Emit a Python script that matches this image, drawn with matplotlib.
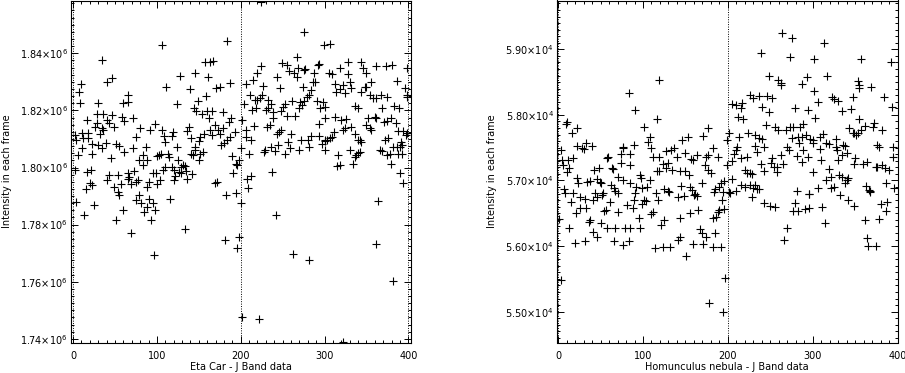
import matplotlib
matplotlib.use('Agg')
import matplotlib.pyplot as plt
import numpy as np
from matplotlib.ticker import MultipleLocator, FuncFormatter

# Eta Car frames (x = frame number, y in units of 1e6)
eta_x = [34, 47, 40, 9, 7, 66, 8, 30, 59, 65, 29, 36, 47, 58, 72, 16, 28, 41, 43, 61,
         26, 34, 49, 80, 92, 98, 2, 11, 18, 32, 36, 75, 12, 18, 4, 22, 30, 39, 51, 55,
         87, 11, 35, 71, 61, 23, 6, 45, 84, 79, 88, 100, 84, 2, 21, 17, 73, 43, 53, 65,
         95, 99, 41, 65, 67, 77, 75, 90, 20, 23, 69, 100, 15, 49, 57, 88, 53, 55, 79, 75,
         91, 4, 81, 95, 25, 88, 98, 85, 59, 13, 51, 93, 69, 96,
         106, 184, 157, 163, 167, 127, 146, 161, 111, 140, 171, 175, 187, 159, 149, 124, 144, 147, 160, 166,
         154, 179, 162, 188, 186, 169, 106, 119, 138, 136, 163, 173, 179, 193, 108, 118, 156, 166, 175,
         141, 110, 152, 150, 124, 146, 187, 184, 180, 176, 146, 155, 152, 102, 105, 113, 115, 125, 143, 141,
         150, 190, 200, 131, 129, 134, 118, 120, 194, 196, 198, 107, 110, 126, 129, 135, 122, 142, 104, 120,
         136, 191, 169, 172, 194, 183, 116, 200, 134, 181, 198, 195,
         224, 275, 299, 267, 249, 255, 258, 264, 267, 277, 276, 268, 292, 294, 224, 220, 215, 206, 243, 288,
         286, 289, 227, 247, 274, 284, 282, 279, 276, 211, 225, 223, 217, 219, 232, 204, 236, 261, 271, 269,
         273, 253, 250, 291, 298, 295, 301, 214, 218, 230, 233, 239, 248, 255, 265, 202, 239, 301, 216, 231,
         235, 293, 206, 248, 246, 243, 260, 206, 212, 272, 280, 284, 294, 257, 301, 236, 245, 259, 281, 297,
         229, 228, 241, 270, 300, 210, 253, 237, 212, 208, 209, 242, 262, 282, 202, 222,
         307, 328, 344, 381, 318, 346, 350, 362, 373, 398, 305, 309, 328, 387, 356, 313, 322, 330, 332, 318,
         314, 325, 344, 348, 350, 396, 354, 358, 362, 367, 375, 399, 399, 336, 340, 368, 383, 389, 313, 320,
         326, 360, 352, 362, 379, 385, 371, 374, 324, 332, 354, 356, 350, 388, 394, 399, 397, 311, 309, 307,
         303, 301, 322, 336, 340, 344, 342, 372, 376, 382, 386, 391, 390, 393, 378, 388, 392, 366, 369, 375,
         379, 330, 340, 342, 338, 336, 334, 316, 315, 319, 390, 394, 364, 362, 382, 322]
eta_y = [1.8377, 1.8312, 1.8301, 1.8291, 1.8265, 1.8254, 1.8227, 1.8225, 1.8225, 1.8228,
         1.8189, 1.8189, 1.8184, 1.8178, 1.8175, 1.8168, 1.8157, 1.8166, 1.8157, 1.8164,
         1.8143, 1.8137, 1.8143, 1.8140, 1.8131, 1.8154, 1.8113, 1.8122, 1.8122, 1.8119,
         1.8131, 1.8108, 1.8104, 1.8105, 1.8096, 1.8084, 1.8078, 1.8086, 1.8082, 1.8076,
         1.8072, 1.8067, 1.8067, 1.8069, 1.8055, 1.8049, 1.8043, 1.8034, 1.8043, 1.8028,
         1.8028, 1.8040, 1.8010, 1.7993, 1.7993, 1.7985, 1.7987, 1.7975, 1.7975, 1.7979,
         1.7979, 1.7979, 1.7955, 1.7959, 1.7967, 1.7955, 1.7950, 1.7950, 1.7946, 1.7938,
         1.7941, 1.7941, 1.7923, 1.7930, 1.7941, 1.7930, 1.7914, 1.7905, 1.7905, 1.7885,
         1.7888, 1.7879, 1.7874, 1.7874, 1.7868, 1.7863, 1.7851, 1.7844, 1.7852, 1.7835,
         1.7815, 1.7815, 1.7772, 1.7694,
         1.8429, 1.8443, 1.8368, 1.8371, 1.8373, 1.8320, 1.8332, 1.8316, 1.8281, 1.8274,
         1.8277, 1.8281, 1.8295, 1.8250, 1.8234, 1.8222, 1.8210, 1.8198, 1.8198, 1.8198,
         1.8187, 1.8193, 1.8175, 1.8172, 1.8158, 1.8148, 1.8131, 1.8125, 1.8143,
         1.8129, 1.8131, 1.8131, 1.8137, 1.8125, 1.8110, 1.8110, 1.8119, 1.8113, 1.8119,
         1.8102, 1.8090, 1.8108, 1.8092, 1.8073, 1.8073, 1.8107, 1.8096, 1.8086, 1.8078,
         1.8061, 1.8055, 1.8049, 1.8043, 1.8047, 1.8047, 1.8038, 1.8028, 1.8043, 1.8049,
         1.8028, 1.8042, 1.8067, 1.8008, 1.8002, 1.8006, 1.8002, 1.7990, 1.8014, 1.8008,
         1.8025, 1.7993, 1.8002, 1.7985, 1.7979, 1.7988, 1.7969, 1.7976, 1.7955, 1.7955,
         1.7959, 1.7979, 1.7944, 1.7950, 1.7911, 1.7903, 1.7888, 1.7874, 1.7783, 1.7745,
         1.7757, 1.7719,
         1.8581, 1.8476, 1.8429, 1.8388, 1.8367, 1.8359, 1.8338, 1.8332, 1.8316, 1.8345,
         1.8342, 1.8347, 1.8359, 1.8363, 1.8356, 1.8332, 1.8306, 1.8292, 1.8316, 1.8330,
         1.8301, 1.8298, 1.8285, 1.8277, 1.8281, 1.8271, 1.8254, 1.8248, 1.8234, 1.8254,
         1.8254, 1.8242, 1.8236, 1.8236, 1.8236, 1.8222, 1.8222, 1.8234, 1.8230, 1.8207,
         1.8219, 1.8222, 1.8213, 1.8234, 1.8230, 1.8210, 1.8213, 1.8201, 1.8207, 1.8201,
         1.8207, 1.8195, 1.8199, 1.8180, 1.8180, 1.8166, 1.8172, 1.8175, 1.8145, 1.8143,
         1.8149, 1.8151, 1.8133, 1.8133, 1.8125, 1.8117, 1.8119, 1.8108, 1.8098, 1.8098,
         1.8096, 1.8110, 1.8110, 1.8090, 1.8098, 1.8073, 1.8078, 1.8070, 1.8072, 1.8082,
         1.8060, 1.8053, 1.8057, 1.8063, 1.8063, 1.8049, 1.8047, 1.7985, 1.7971, 1.7959,
         1.7928, 1.7833, 1.7698, 1.7675, 1.7478, 1.7470,
         1.8432, 1.8371, 1.8371, 1.8359, 1.8350, 1.8347, 1.8332, 1.8355, 1.8355, 1.8347,
         1.8332, 1.8327, 1.8327, 1.8303, 1.8301, 1.8292, 1.8289, 1.8301, 1.8277, 1.8274,
         1.8265, 1.8260, 1.8265, 1.8281, 1.8281, 1.8277, 1.8254, 1.8243, 1.8243, 1.8254,
         1.8246, 1.8254, 1.8248, 1.8215, 1.8207, 1.8210, 1.8215, 1.8207, 1.8178, 1.8166,
         1.8169, 1.8178, 1.8172, 1.8172, 1.8175, 1.8157, 1.8160, 1.8164, 1.8139, 1.8143,
         1.8137, 1.8131, 1.8149, 1.8127, 1.8127, 1.8121, 1.8113, 1.8125, 1.8108, 1.8105,
         1.8096, 1.8093, 1.8131, 1.8119, 1.8096, 1.8090, 1.8098, 1.8096, 1.8104, 1.8072,
         1.8072, 1.8090, 1.8072, 1.8078, 1.8049, 1.8047, 1.8049, 1.8061, 1.8057, 1.8043,
         1.8014, 1.8061, 1.8051, 1.8055, 1.8043, 1.8038, 1.8014, 1.8043, 1.8006, 1.8008,
         1.7979, 1.7944, 1.7882, 1.7733, 1.7604, 1.7388]

# Homunculus nebula frames (y in units of 1e4)
hom_x = [83, 90, 10, 9, 22, 16, 22, 28, 30, 40, 33, 76, 77, 89, 85, 74, 3, 58, 59, 63,
         65, 4, 12, 18, 6, 13, 11, 74, 85, 42, 48, 96, 98, 22, 24, 34, 38, 49, 51, 46,
         71, 77, 85, 62, 66, 92, 99, 7, 8, 17, 43, 53, 52, 70, 67, 91, 26, 32, 41, 46,
         15, 89, 61, 81, 26, 33, 88, 99, 21, 54, 57, 71, 1, 95, 37, 36, 50, 58, 67,
         79, 85, 96, 13, 41, 46, 20, 32, 66, 77, 83, 3,
         119, 116, 101, 176, 108, 106, 109, 171, 153, 146, 182, 133, 136, 127, 112, 119, 140, 150, 156, 159,
         164, 174, 176, 188, 123, 129, 173, 127, 134, 116, 119, 143, 149, 154, 176, 180, 108, 169, 192,
         189, 145, 155, 105, 125, 131, 129, 158, 161, 160, 185, 184, 194, 115, 141, 148, 164, 118, 101, 103,
         193, 188, 190, 195, 112, 110, 165, 155, 125, 121, 143, 182, 186, 185, 167, 170, 174, 143, 141, 114,
         123, 132, 159, 171, 182, 192, 151, 197, 178, 194,
         264, 275, 239, 273, 248, 259, 262, 263, 293, 287, 226, 230, 237, 246, 252, 205, 209, 215, 217, 240,
         249, 279, 294, 212, 218, 245, 255, 259, 269, 273, 277, 285, 288, 201, 213, 224, 232, 237, 240, 275,
         283, 287, 292, 297, 199, 284, 232, 243, 211, 210, 270, 272, 289, 234, 222, 215, 207, 199, 205, 263,
         281, 287, 252, 251, 265, 258, 254, 243, 239, 220, 222, 226, 228, 258, 205, 196, 215, 220, 226, 232,
         234, 230, 237, 209, 201, 203, 228, 281, 296, 279, 277, 283, 291, 295, 242, 250, 256, 270, 266,
         313, 302, 357, 392, 317, 353, 355, 354, 369, 301, 306, 323, 325, 330, 347, 334, 345, 384, 393, 303,
         355, 372, 361, 371, 382, 343, 347, 353, 351, 349, 357, 312, 308, 300, 300, 316, 319, 327, 327,
         328, 308, 294, 336, 338, 340, 335, 350, 376, 378, 395, 310, 330, 349, 359, 364, 374, 376, 382, 385,
         390, 395, 300, 319, 331, 334, 340, 338, 341, 315, 321, 386, 396, 363, 366, 368, 367, 296, 306, 321,
         325, 332, 311, 342, 349, 380, 388, 386, 378, 362, 314, 364, 365, 374]
hom_y = [5.8329, 5.8075, 5.7898, 5.7857, 5.7806, 5.7720, 5.7532, 5.7491, 5.7476, 5.7532,
         5.7578, 5.7491, 5.7517, 5.7542, 5.7405, 5.7405, 5.7466, 5.7344, 5.7364, 5.7187,
         5.7171, 5.7314, 5.7314, 5.7339, 5.7237, 5.7187, 5.7136, 5.7263, 5.7237, 5.7161,
         5.7187, 5.7085, 5.7034, 5.7034, 5.6968, 5.6983, 5.6993, 5.6983, 5.6958, 5.7019,
         5.7060, 5.7009, 5.6958, 5.6932, 5.6882, 5.6907, 5.6882, 5.6866, 5.6816, 5.6816,
         5.6816, 5.6806, 5.6780, 5.6816, 5.6846, 5.6806, 5.6755, 5.6714, 5.6704, 5.6755,
         5.6668, 5.6704, 5.6678, 5.6628, 5.6577, 5.6577, 5.6577, 5.6643, 5.6511,
         5.6541, 5.6552, 5.6516, 5.6409, 5.6424, 5.6399, 5.6374, 5.6358, 5.6282, 5.6272,
         5.6282, 5.6282, 5.6282, 5.6272, 5.6221, 5.6145, 5.6044, 5.6079, 5.6079, 5.6018,
         5.6079, 5.5485,
         5.8533, 5.7933, 5.7811, 5.7796, 5.7669, 5.7583, 5.7501, 5.7679, 5.7669, 5.7618,
         5.7501, 5.7466, 5.7491, 5.7456, 5.7364, 5.7364, 5.7364, 5.7415, 5.7324, 5.7314,
         5.7390, 5.7364, 5.7390, 5.7364, 5.7253, 5.7263, 5.7237, 5.7187, 5.7161, 5.7151,
         5.7140, 5.7140, 5.7151, 5.7090, 5.7166, 5.7115, 5.7009, 5.6958, 5.6968,
         5.6907, 5.6917, 5.6907, 5.6897, 5.6866, 5.6831, 5.6846, 5.6856, 5.6795, 5.6780,
         5.6866, 5.6831, 5.6831, 5.6806, 5.6755, 5.6765, 5.6765, 5.6704, 5.6704, 5.6689,
         5.6704, 5.6526, 5.6552, 5.6562, 5.6526, 5.6485, 5.6552, 5.6501, 5.6399, 5.6323,
         5.6424, 5.6424, 5.6450, 5.6196, 5.6257, 5.6196, 5.6145, 5.6145, 5.6094, 5.5967,
         5.5993, 5.5993, 5.6028, 5.6028, 5.5993, 5.5993, 5.5850, 5.5520, 5.5129, 5.5002,
         5.9244, 5.9178, 5.8939, 5.8888, 5.8594, 5.8533, 5.8492, 5.8456, 5.8573, 5.8467,
         5.8304, 5.8253, 5.8289, 5.8289, 5.8253, 5.8167, 5.8152, 5.8101, 5.8187, 5.8116,
         5.8050, 5.8101, 5.8075, 5.7964, 5.7933, 5.7847, 5.7822, 5.7771, 5.7771, 5.7822,
         5.7822, 5.7822, 5.7862, 5.7720, 5.7669, 5.7720, 5.7694, 5.7644, 5.7628, 5.7644,
         5.7669, 5.7669, 5.7694, 5.7628, 5.7618, 5.7567, 5.7532, 5.7517, 5.7517, 5.7466,
         5.7517, 5.7466, 5.7466, 5.7441, 5.7364, 5.7339, 5.7405, 5.7237, 5.7298, 5.7390,
         5.7375, 5.7288, 5.7339, 5.7263, 5.7253, 5.7212, 5.7212, 5.7151, 5.7253, 5.7161,
         5.7120, 5.7110, 5.7100, 5.7136, 5.7024, 5.6993, 5.6932, 5.6907, 5.6932, 5.6932,
         5.6866, 5.6882, 5.6866, 5.6846, 5.6831, 5.6816, 5.6755, 5.6846, 5.6790, 5.6653,
         5.6536, 5.6536, 5.6562, 5.6577, 5.6663, 5.6613, 5.6592, 5.6272, 5.6094,
         5.9091, 5.8848, 5.8848, 5.8812, 5.8594, 5.8518, 5.8456, 5.8406, 5.8421, 5.8360,
         5.8202, 5.8279, 5.8238, 5.8218, 5.8268, 5.8065, 5.8086, 5.8268, 5.8116, 5.7949,
         5.7933, 5.7883, 5.7832, 5.7822, 5.7771, 5.7796, 5.7720, 5.7730, 5.7694, 5.7720,
         5.7771, 5.7705, 5.7669, 5.7618, 5.7567, 5.7578, 5.7557, 5.7628, 5.7517,
         5.7466, 5.7476, 5.7364, 5.7542, 5.7532, 5.7415, 5.7390, 5.7339, 5.7542, 5.7517,
         5.7517, 5.7314, 5.7314, 5.7253, 5.7253, 5.7288, 5.7202, 5.7212, 5.7237, 5.7187,
         5.7161, 5.7364, 5.7136, 5.7171, 5.7085, 5.7060, 5.7009, 5.6968, 5.7034, 5.7009,
         5.7060, 5.6958, 5.6882, 5.6922, 5.6861, 5.6820, 5.6836, 5.6795, 5.6882, 5.6882,
         5.6897, 5.6780, 5.6592, 5.6704, 5.6613, 5.6643, 5.6678, 5.6536, 5.6409, 5.6399,
         5.6358, 5.6125, 5.6008, 5.6008]

markers_at = [0, 200, 400]

W, H = 905, 373
fig = plt.figure(figsize=(W / 100, H / 100), dpi=100)
plt.rcParams['font.family'] = 'DejaVu Sans'
FS = 7


def style_axis(ax, ymajor, yminor, fmt):
    ax.xaxis.set_major_locator(MultipleLocator(100))
    ax.xaxis.set_minor_locator(MultipleLocator(10))
    ax.yaxis.set_major_locator(MultipleLocator(ymajor))
    ax.yaxis.set_minor_locator(MultipleLocator(yminor))
    ax.yaxis.set_major_formatter(FuncFormatter(fmt))
    ax.tick_params(which='both', direction='in', top=True, right=True,
                   colors='black', labelsize=FS, width=0.7)
    ax.tick_params(which='major', length=5)
    ax.tick_params(which='minor', length=2.5)
    ax.tick_params(axis='x', pad=6)
    ax.tick_params(axis='y', pad=2)
    for s in ax.spines.values():
        s.set_linewidth(0.8)
    for xv in markers_at:
        ax.axvline(xv, color='black', linestyle=(0, (1, 1.5)), linewidth=0.7)


ax1 = fig.add_axes([70.5 / W, (H - 342.5) / H, 340 / W, 342 / H])
ax1.plot(eta_x, np.array(eta_y) * 1e6, '+', color='black', ms=5.2, mew=0.8)
ax1.set_xlim(-3.1, 402.6)
ax1.set_ylim(1.7387e6, 1.8585e6)
style_axis(ax1, 0.02e6, 0.0025e6, lambda v, p: f'{v / 1e6:.2f}×10$^{{6}}$')
ax1.set_xlabel('Eta Car - J Band data', fontsize=FS)
ax1.set_ylabel('Intensity in each frame', fontsize=FS)
ax1.xaxis.set_label_coords(0.5, -0.056)
ax1.yaxis.set_label_coords(-0.172, 0.5)

ax2 = fig.add_axes([556.5 / W, (H - 342.5) / H, 341.5 / W, 342 / H])
ax2.plot(hom_x, np.array(hom_y) * 1e4, '+', color='black', ms=5.2, mew=0.8)
ax2.set_xlim(-1.9, 400.4)
ax2.set_ylim(5.4530e4, 5.9744e4)
style_axis(ax2, 0.1e4, 0.01e4, lambda v, p: f'{v / 1e4:.2f}×10$^{{4}}$')
ax2.set_xlabel('Homunculus nebula - J Band data', fontsize=FS)
ax2.set_ylabel('Intensity in each frame', fontsize=FS)
ax2.xaxis.set_label_coords(0.5, -0.056)
ax2.yaxis.set_label_coords(-0.174, 0.5)

fig.savefig('out.png', dpi=100)
